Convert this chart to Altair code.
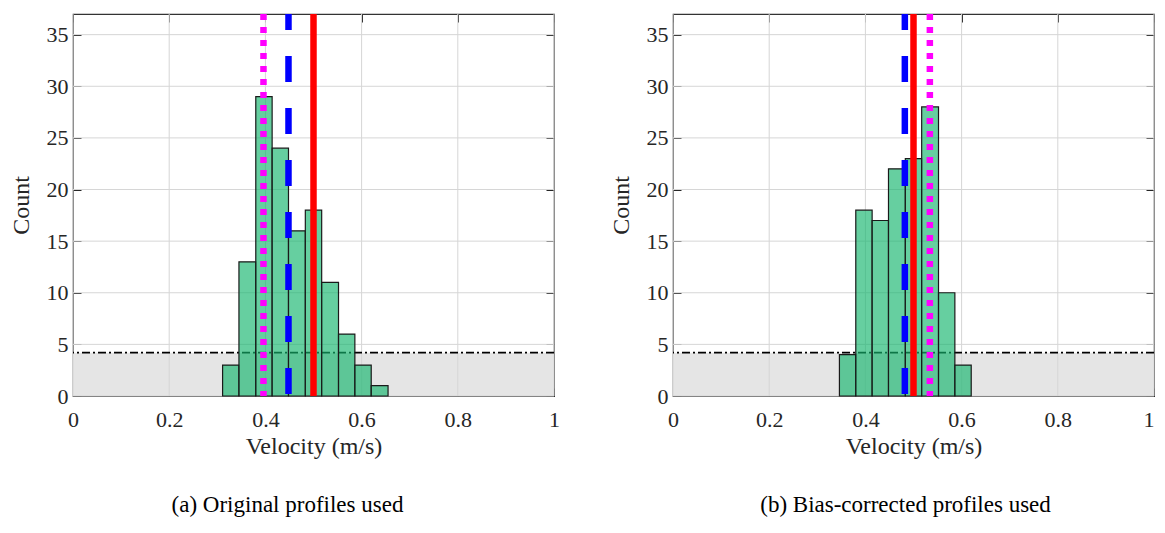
import altair as alt
import pandas as pd

# ---- data ----
x_ticks = [0, 0.2, 0.4, 0.6, 0.8, 1]
y_ticks = [0, 5, 10, 15, 20, 25, 30, 35]

a_edges = [0.311, 0.345, 0.380, 0.414, 0.448, 0.483, 0.517, 0.552, 0.586, 0.620, 0.655]
a_counts = [3, 13, 29, 24, 16, 18, 11, 6, 3, 1]
a_true = 0.500      # red solid
a_mean = 0.448      # blue dashed
a_mode = 0.396      # magenta dotted

b_edges = [0.346, 0.380, 0.414, 0.448, 0.483, 0.517, 0.552, 0.586, 0.620]
b_counts = [4, 18, 17, 22, 23, 28, 10, 3]
b_true = 0.500
b_mean = 0.482
b_mode = 0.534

threshold = 4.2
x_domain = [0, 1]
y_domain = [0, 37]

caption_a = "(a) Original profiles used"
caption_b = "(b) Bias-corrected profiles used"

SERIF = "Liberation Serif"
INK = "#262626"

xs = alt.Scale(domain=x_domain, nice=False, zero=False)
ys = alt.Scale(domain=y_domain, nice=False, zero=False)


def panel(edges, counts, true_v, mean_v, mode_v, caption, dx, flush_last):
    bars = pd.DataFrame({"start": edges[:-1], "end": edges[1:], "count": counts})
    band = pd.DataFrame({"x0": [x_domain[0]], "x1": [x_domain[1]], "y0": [0], "y1": [threshold]})
    xt = pd.DataFrame({"v": x_ticks})
    yt = pd.DataFrame({"v": y_ticks})
    thr = pd.DataFrame({"v": [threshold]})

    xlabel_align = alt.condition("datum.value == 1", alt.value("right"), alt.value("center")) \
        if flush_last else "center"

    bottom_axis = alt.Axis(values=x_ticks, format="~g", grid=False, domain=False,
                           tickSize=8, offset=-8, tickColor=INK, tickWidth=1,
                           labelFont=SERIF, labelFontSize=22, labelColor=INK, labelPadding=13,
                           labelFlush=False, labelAlign=xlabel_align,
                           title="Velocity (m/s)", titleFont=SERIF, titleFontSize=24,
                           titleFontWeight="normal", titleColor=INK, titlePadding=4)
    left_axis = alt.Axis(values=y_ticks, format="~g", grid=False, domain=False,
                         tickSize=8, offset=-8, tickColor=INK, tickWidth=1,
                         labelFont=SERIF, labelFontSize=22, labelColor=INK, labelPadding=5,
                         labelFlush=False,
                         title="Count", titleFont=SERIF, titleFontSize=24,
                         titleFontWeight="normal", titleColor=INK, titlePadding=13)
    top_axis = alt.Axis(values=x_ticks, labels=False, grid=False, domain=False,
                        tickSize=8, offset=-8, tickColor=INK, tickWidth=1, orient="top")
    right_axis = alt.Axis(values=y_ticks, labels=False, grid=False, domain=False,
                          tickSize=8, offset=-8, tickColor=INK, tickWidth=1, orient="right")

    gray = alt.Chart(band).mark_rect(color="#e5e5e5").encode(
        x=alt.X("x0:Q", scale=xs, axis=bottom_axis),
        x2="x1:Q",
        y=alt.Y("y0:Q", scale=ys, axis=left_axis),
        y2="y1:Q",
    )
    gridx = alt.Chart(xt).mark_rule(color="#d6d6d6", strokeWidth=1).encode(
        x=alt.X("v:Q", scale=xs, axis=top_axis, title=None)
    )
    gridy = alt.Chart(yt).mark_rule(color="#d6d6d6", strokeWidth=1).encode(
        y=alt.Y("v:Q", scale=ys, axis=right_axis, title=None)
    )
    thr_line = alt.Chart(thr).mark_rule(color="black", strokeWidth=1.6,
                                        strokeDash=[8, 3, 2, 3]).encode(
        y=alt.Y("v:Q", scale=ys, axis=None)
    )
    hist = alt.Chart(bars).mark_rect(fill="#14b56d", fillOpacity=0.65,
                                     stroke="#1a1a1a", strokeWidth=1.2).encode(
        x=alt.X("start:Q", scale=xs, axis=None),
        x2="end:Q",
        y=alt.Y("count:Q", scale=ys, axis=None),
        y2=alt.datum(0),
    )

    def vline(v, color, dash, offset):
        d = pd.DataFrame({"v": [v]})
        kw = dict(color=color, strokeWidth=6.5)
        if dash:
            kw["strokeDash"] = dash
            kw["strokeDashOffset"] = offset
        return alt.Chart(d).mark_rule(**kw).encode(
            x=alt.X("v:Q", scale=xs, axis=None)
        )

    mode_line = vline(mode_v, "#ff00ff", [6, 7], 0)
    mean_line = vline(mean_v, "#0000ff", [26, 26], 10)
    true_line = vline(true_v, "#ff0000", None, 0)

    if mode_v > true_v:
        lines = [mean_line, true_line, mode_line]
    else:
        lines = [mode_line, mean_line, true_line]

    return alt.layer(gray, gridx, gridy, thr_line, hist, *lines).resolve_axis(
        x="independent", y="independent"
    ).properties(
        width=481, height=382,
        title=alt.TitleParams(caption, orient="bottom", font=SERIF, fontSize=23,
                              fontWeight="normal", color="black", offset=36,
                              anchor="middle", dx=dx),
    )


left = panel(a_edges, a_counts, a_true, a_mean, a_mode, caption_a, -26, False)
right = panel(b_edges, b_counts, b_true, b_mean, b_mode, caption_b, -8, True)

chart = alt.hconcat(left, right, spacing=47).configure_view(
    stroke="#333333", strokeWidth=1.2
).properties(
    padding={"left": 0, "top": 2, "right": 0, "bottom": 0},
    background="white",
)

chart.save("out.html", embed_options={"renderer": "svg", "actions": False})
